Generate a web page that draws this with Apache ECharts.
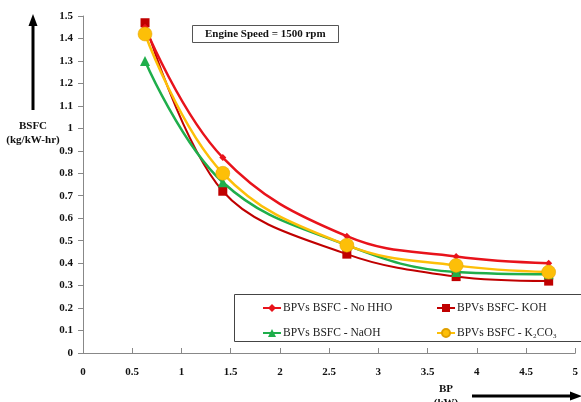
<!DOCTYPE html>
<html><head><meta charset="utf-8">
<script src="https://cdn.jsdelivr.net/npm/echarts@6/dist/echarts.min.js"></script>
<style>html,body{margin:0;padding:0;background:#fff}#c{width:581px;height:402px}</style>
</head><body><div id="c"></div>
<script>
const bp = [0.63, 1.42, 2.68, 3.79, 4.73];
const noHHO = [1.45, 0.87, 0.52, 0.43, 0.40];
const koh = [1.47, 0.72, 0.44, 0.34, 0.32];
const naoh = [1.30, 0.76, 0.48, 0.36, 0.35];
const k2co3 = [1.42, 0.80, 0.48, 0.39, 0.36];
const seriesNames = ['BPVs BSFC - No HHO', 'BPVs BSFC- KOH', 'BPVs BSFC - NaOH', 'BPVs BSFC - K₂CO₃'];
const titleText = 'Engine Speed = 1500 rpm';

const pair = (ys) => bp.map((x, i) => [x, ys[i]]);
const font = '"Liberation Serif", "Times New Roman", serif';
const chart = echarts.init(document.getElementById('c'));
const legendText = { fontFamily: font, fontSize: 11.5, color: '#222', padding: [0, 0, 0, -3] };
chart.setOption({
  animation: false,
  title: {
    text: titleText, left: 192, top: 25,
    borderColor: '#555', borderWidth: 1, padding: [4, 13, 3, 13],
    textStyle: { fontFamily: font, fontSize: 11, fontWeight: 'bold', color: '#111' }
  },
  grid: { left: 83, right: -2, top: 16, bottom: 49 },
  xAxis: {
    type: 'value', min: 0, max: 5, interval: 0.5,
    axisLine: { lineStyle: { color: '#888' } },
    axisTick: { show: true, inside: true, length: 5, lineStyle: { color: '#888' } },
    splitLine: { show: false },
    axisLabel: { fontFamily: font, fontSize: 11, fontWeight: 'bold', color: '#111', margin: 14 }
  },
  yAxis: {
    type: 'value', min: 0, max: 1.5, interval: 0.1,
    axisLine: { show: true, lineStyle: { color: '#888' } },
    axisTick: { show: true, length: 5, lineStyle: { color: '#888' } },
    splitLine: { show: false },
    axisLabel: { fontFamily: font, fontSize: 11, fontWeight: 'bold', color: '#111', margin: 10 }
  },
  legend: [
    { data: [seriesNames[0], seriesNames[2]], orient: 'vertical', left: 257, top: 297, itemGap: 13,
      itemWidth: 18, itemHeight: 10, textStyle: legendText },
    { data: [seriesNames[1], seriesNames[3]], orient: 'vertical', left: 431, top: 297, itemGap: 13,
      itemWidth: 18, itemHeight: 10, textStyle: legendText }
  ],
  graphic: [
    { type: 'rect', shape: { x: 234.5, y: 294.5, width: 350, height: 47 },
      style: { fill: 'rgba(0,0,0,0)', stroke: '#444', lineWidth: 1 }, z: 0 },
    { type: 'text', x: 33, y: 119,
      style: { text: 'BSFC\n(kg/kW-hr)', fontFamily: font, fontSize: 11, fontWeight: 'bold', fill: '#111', align: 'center', verticalAlign: 'top', lineHeight: 14 } },
    { type: 'line', shape: { x1: 33, y1: 110, x2: 33, y2: 24 }, style: { stroke: '#000', lineWidth: 3 } },
    { type: 'polygon', shape: { points: [[33, 14], [28.5, 26], [37.5, 26]] }, style: { fill: '#000' } },
    { type: 'text', x: 446, y: 382,
      style: { text: 'BP\n(kW)', fontFamily: font, fontSize: 11, fontWeight: 'bold', fill: '#111', align: 'center', verticalAlign: 'top', lineHeight: 14 } },
    { type: 'line', shape: { x1: 472, y1: 396, x2: 572, y2: 396 }, style: { stroke: '#000', lineWidth: 3 } },
    { type: 'polygon', shape: { points: [[582, 396], [570, 391.5], [570, 400.5]] }, style: { fill: '#000' } }
  ],
  series: [
    { name: seriesNames[0], type: 'line', smooth: 0.4, data: pair(noHHO), z: 3,
      symbol: 'diamond', symbolSize: 7, lineStyle: { color: '#e8131b', width: 2.5 },
      itemStyle: { color: '#e8131b' } },
    { name: seriesNames[1], type: 'line', smooth: 0.35, data: pair(koh), z: 2,
      symbol: 'rect', symbolSize: 9, lineStyle: { color: '#c00000', width: 2 },
      itemStyle: { color: '#c00000' } },
    { name: seriesNames[2], type: 'line', smooth: 0.4, data: pair(naoh), z: 3,
      symbol: 'triangle', symbolSize: 10, lineStyle: { color: '#1fae4b', width: 2.5 },
      itemStyle: { color: '#1fae4b' } },
    { name: seriesNames[3], type: 'line', smooth: 0.4, data: pair(k2co3), z: 4,
      symbol: 'circle', symbolSize: 14, lineStyle: { color: '#fdbf08', width: 2.5 },
      itemStyle: { color: '#fdbf08', borderColor: '#e0a000', borderWidth: 0.5 } }
  ]
});
</script></body></html>
